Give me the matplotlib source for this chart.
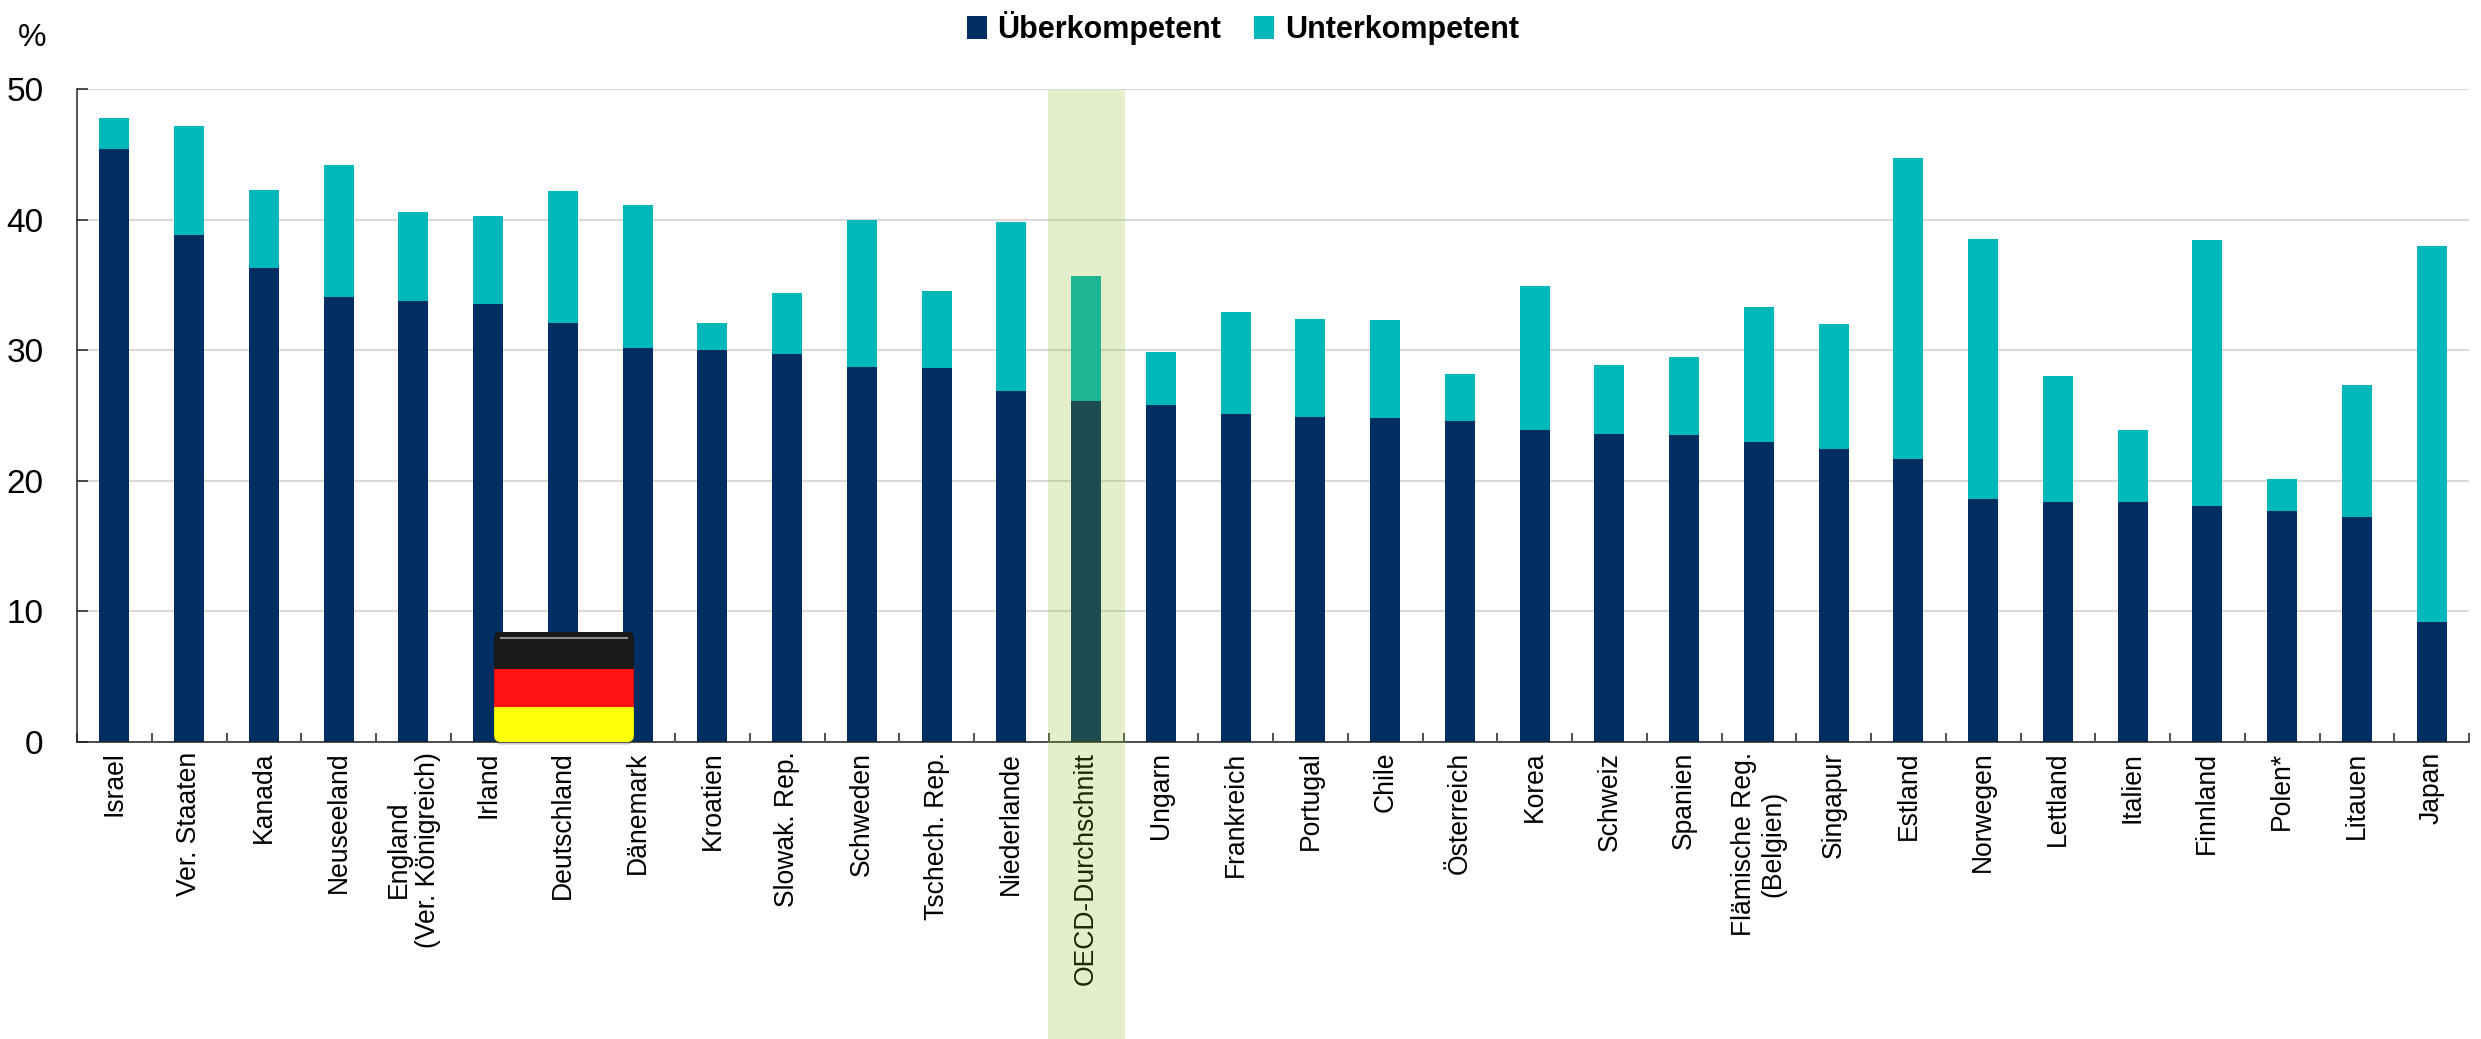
import matplotlib
matplotlib.use('Agg')
import matplotlib.pyplot as plt
from matplotlib.patches import FancyBboxPatch, Rectangle
import numpy as np

countries = ['Israel', 'Ver. Staaten', 'Kanada', 'Neuseeland', 'England\n(Ver. Königreich)', 'Irland',
             'Deutschland', 'Dänemark', 'Kroatien', 'Slowak. Rep.', 'Schweden', 'Tschech. Rep.',
             'Niederlande', 'OECD-Durchschnitt', 'Ungarn', 'Frankreich', 'Portugal', 'Chile',
             'Österreich', 'Korea', 'Schweiz', 'Spanien', 'Flämische Reg.\n(Belgien)', 'Singapur',
             'Estland', 'Norwegen', 'Lettland', 'Italien', 'Finnland', 'Polen*', 'Litauen', 'Japan']
ueber = [45.4, 38.8, 36.3, 34.1, 33.8, 33.5, 32.1, 30.2, 30.0, 29.7, 28.7, 28.6, 26.9, 26.1, 25.8, 25.1,
         24.9, 24.8, 24.6, 23.9, 23.6, 23.5, 23.0, 22.4, 21.7, 18.6, 18.4, 18.4, 18.1, 17.7, 17.2, 9.2]
unter = [2.4, 8.4, 6.0, 10.1, 6.8, 6.8, 10.1, 10.9, 2.1, 4.7, 11.3, 5.9, 12.9, 9.6, 4.1, 7.8,
         7.5, 7.5, 3.6, 11.0, 5.3, 6.0, 10.3, 9.6, 23.0, 19.9, 9.6, 5.5, 20.3, 2.4, 10.1, 28.8]
yticks = [0, 10, 20, 30, 40, 50]

W, H = 2481, 1039
NAVY = '#002d62'
TEAL = '#00b7b9'

plt.rcParams['font.family'] = ['Liberation Sans', 'DejaVu Sans']

fig = plt.figure(figsize=(W / 100, H / 100), dpi=100)
ax = fig.add_axes([77 / W, (H - 742) / H, 2392 / W, 653 / H])

x = np.arange(len(countries))
ax.bar(x, ueber, 0.4, color=NAVY, zorder=2, label='Überkompetent')
ax.bar(x, unter, 0.4, bottom=ueber, color=TEAL, zorder=2, label='Unterkompetent')

ax.set_xlim(-0.5, len(countries) - 0.5)
ax.set_ylim(0, 50)
ax.set_yticks(yticks)
ax.set_xticks(np.arange(len(countries) + 1) - 0.5, minor=True)
ax.set_xticks(x)
ax.set_xticklabels(countries, rotation=90, fontsize=19.1, ha='center', va='top', multialignment='center')
ax.tick_params(axis='x', which='major', length=0, pad=7)
ax.tick_params(axis='x', which='minor', direction='in', length=6.5, width=1.1, color='#222222')
ax.tick_params(axis='y', direction='in', length=8, width=1.1, color='#222222', labelsize=24, pad=24)

ax.yaxis.grid(True, color='#d9d9d9', linewidth=1.5, zorder=0)
ax.set_axisbelow(True)
for s in ['top', 'right']:
    ax.spines[s].set_visible(False)
for s in ['left', 'bottom']:
    ax.spines[s].set_linewidth(1.1)
    ax.spines[s].set_color('#222222')

# grünes Band über dem OECD-Durchschnitt
oecd = countries.index('OECD-Durchschnitt')
ax.axvspan(oecd - 0.515, oecd + 0.515, ymin=-(H - 742) / 653, ymax=0.998, color='#84b612', alpha=0.22,
           lw=0, zorder=5, clip_on=False)

# Flagge
fx0, fx1, fh = 5.08, 6.95, 8.42
shadow = FancyBboxPatch((fx0, -0.2), fx1 - fx0, fh, boxstyle='round,pad=0,rounding_size=0.09',
                        mutation_aspect=5.6, fc='#555555', ec='none', alpha=0.3, zorder=6, clip_on=False)
ax.add_patch(shadow)
box = FancyBboxPatch((fx0, 0), fx1 - fx0, fh, boxstyle='round,pad=0,rounding_size=0.09',
                     mutation_aspect=5.6, fc='#111111', ec='none', zorder=7, clip_on=False)
ax.add_patch(box)
for y0, y1, c in [(5.59, fh, '#191919'), (2.68, 5.59, '#fe1313'), (0, 2.68, '#ffff0a')]:
    r = Rectangle((fx0, y0), fx1 - fx0, y1 - y0, fc=c, ec='none', zorder=8)
    ax.add_patch(r)
    r.set_clip_path(box)
ax.plot([fx0 + 0.09, fx1 - 0.09], [fh - 0.45, fh - 0.45], color='#8a8a8a', lw=1.5, zorder=9)

fig.text(32 / W, (H - 38) / H, '%', fontsize=23, ha='center', va='center')
fig.legend(loc='center', bbox_to_anchor=(1243 / W, (H - 28) / H), ncols=2, frameon=False,
           prop={'weight': 'bold', 'size': 22},
           handlelength=0.65, handleheight=0.75, handletextpad=0.36, columnspacing=1.08,
           borderpad=0, borderaxespad=0)

fig.savefig('out.png', dpi=100)
